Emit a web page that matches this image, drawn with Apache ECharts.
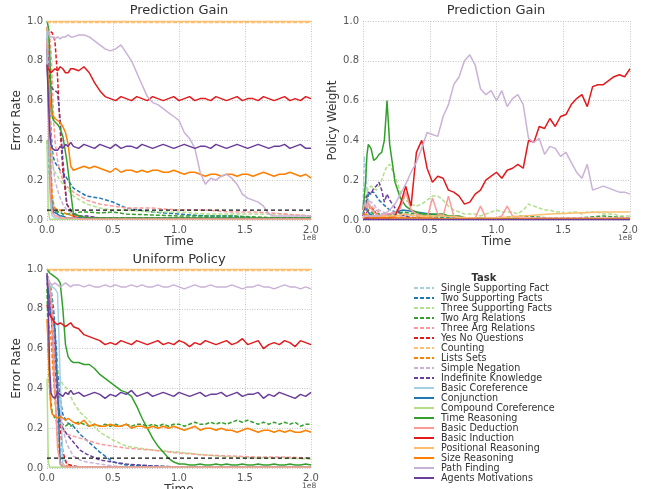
<!DOCTYPE html>
<html><head><meta charset="utf-8">
<script src="https://cdn.jsdelivr.net/npm/echarts@6/dist/echarts.min.js"></script>
<style>html,body{margin:0;padding:0;background:#fff}#c{width:647px;height:489px}</style>
</head><body><div id="c"></div>
<script>
// time grids (units of 1e8)
const T_S = [0,0.01,0.02,0.03,0.04,0.05,0.06,0.08,0.10,0.12,0.15,0.20,0.25,0.30,0.40,0.50,0.60,0.80,1.00,1.20,1.40,1.60,1.80,2.00];
const T_N = [0,0.01,0.02,0.03,0.04,0.06,0.08,0.10,0.12,0.14,0.16,0.18,0.20,0.24,0.28,0.32,0.36,0.40,0.44,0.48,0.52,0.56,0.60,0.64,0.68,0.72,0.76,0.80,0.84,0.88,0.92,0.96,1.00,1.04,1.08,1.12,1.16,1.20,1.24,1.28,1.32,1.36,1.40,1.44,1.48,1.52,1.56,1.60,1.64,1.68,1.72,1.76,1.80,1.84,1.88,1.92,1.96,2.00];

const TASKS = ['Single Supporting Fact','Two Supporting Facts','Three Supporting Facts','Two Arg Relations','Three Arg Relations','Yes No Questions','Counting','Lists Sets','Simple Negation','Indefinite Knowledge','Basic Coreference','Conjunction','Compound Coreference','Time Reasoning','Basic Deduction','Basic Induction','Positional Reasoning','Size Reasoning','Path Finding','Agents Motivations'];
const COLORS = ['#a6cee3','#1f78b4','#b2df8a','#33a02c','#fb9a99','#e31a1c','#fdbf6f','#ff7f00','#cab2d6','#6a3d9a','#a6cee3','#1f78b4','#b2df8a','#33a02c','#fb9a99','#e31a1c','#fdbf6f','#ff7f00','#cab2d6','#6a3d9a'];
const THRESHOLD = 0.05;
const X_TICKS = [0.0,0.5,1.0,1.5,2.0];
const Y_TICKS = [0.0,0.2,0.4,0.6,0.8,1.0];

// ---------- Panel 1: Prediction Gain, error rate ----------
const P1_SSF = [0.95,0.70,0.45,0.25,0.12,0.07,0.05,0.04,0.04,0.03,0.03,0.02,0.02,0.01,0.01,0.01,0.01,0.01,0.01,0.01,0.01,0.01,0.01,0.01];
const P1_TSF = [0.92,0.80,0.60,0.45,0.35,0.31,0.29,0.27,0.25,0.24,0.21,0.16,0.14,0.12,0.11,0.09,0.06,0.04,0.03,0.02,0.02,0.01,0.01,0.01];
const P1_THSF = [0.97,0.85,0.60,0.40,0.30,0.26,0.24,0.22,0.20,0.18,0.16,0.12,0.10,0.08,0.06,0.05,0.05,0.04,0.04,0.03,0.03,0.03,0.03,0.02];
const P1_TAR = [0.40,0.30,0.20,0.12,0.07,0.05,0.04,0.04,0.04,0.03,0.03,0.03,0.04,0.04,0.035,0.04,0.03,0.025,0.02,0.02,0.02,0.015,0.01,0.01];
const P1_THAR = [0.97,0.96,0.93,0.85,0.70,0.50,0.40,0.30,0.24,0.20,0.17,0.14,0.12,0.10,0.08,0.07,0.06,0.06,0.05,0.05,0.04,0.04,0.03,0.02];
const P1_YNQ = [0.97,0.96,0.95,0.95,0.94,0.93,0.90,0.72,0.45,0.25,0.08,0.02,0.01,0.01,0.01,0.005,0.005,0.005,0.005,0.005,0.005,0.005,0.005,0.005];
const P1_CNT = [0.993,0.993,0.993,0.993,0.993,0.993,0.993,0.993,0.993,0.993,0.993,0.993,0.993,0.993,0.993,0.993,0.993,0.993,0.993,0.993,0.993,0.993,0.993,0.993];
const P1_LST = [0.97,0.80,0.50,0.25,0.12,0.08,0.06,0.05,0.05,0.04,0.03,0.02,0.01,0.01,0.01,0.005,0.005,0.005,0.005,0.005,0.005,0.005,0.005,0.005];
const P1_NEG = [0.93,0.80,0.55,0.40,0.30,0.25,0.20,0.15,0.11,0.08,0.05,0.03,0.02,0.02,0.01,0.01,0.01,0.01,0.01,0.01,0.01,0.01,0.01,0.01];
const P1_IND = [0.88,0.78,0.72,0.68,0.66,0.65,0.65,0.64,0.50,0.30,0.08,0.03,0.02,0.02,0.01,0.01,0.01,0.01,0.01,0.01,0.01,0.01,0.01,0.01];
const P1_BCO = [0.95,0.50,0.15,0.05,0.02,0.01,0.01,0.01,0.005,0.005,0.005,0.005,0.005,0.005,0.005,0.005,0.005,0.005,0.005,0.005,0.005,0.005,0.005,0.005];
const P1_CNJ = [0.86,0.60,0.30,0.12,0.06,0.04,0.03,0.03,0.02,0.02,0.01,0.01,0.01,0.01,0.005,0.005,0.005,0.005,0.005,0.005,0.005,0.005,0.005,0.005];
const P1_CCO = [0.40,0.05,0.004,0.004,0.004,0.004,0.004,0.004,0.004,0.004,0.004,0.004,0.004,0.004,0.004,0.004,0.004,0.004,0.004,0.004,0.004,0.004,0.004,0.004];
const P1_TIM = [1.00,0.97,0.85,0.65,0.52,0.50,0.49,0.48,0.46,0.42,0.30,0.03,0.02,0.01,0.01,0.01,0.01,0.01,0.01,0.01,0.01,0.01,0.01,0.01];
const P1_DED = [0.90,0.60,0.30,0.10,0.04,0.03,0.02,0.02,0.01,0.01,0.01,0.01,0.005,0.005,0.005,0.005,0.005,0.005,0.005,0.005,0.005,0.005,0.005,0.005];
const P1_INDU = [0.78,0.76,0.75,0.74,0.74,0.76,0.75,0.77,0.76,0.74,0.74,0.76,0.76, 0.75,0.77,0.74,0.69,0.65,0.62,0.61, 0.60,0.62,0.61,0.60,0.62,0.61,0.60,0.62,0.61,0.60, 0.61,0.62,0.60,0.61,0.62,0.60,0.61,0.61,0.60,0.62, 0.61,0.60,0.61,0.62,0.60,0.61,0.61,0.60,0.62,0.61, 0.60,0.61,0.62,0.60,0.61,0.60,0.62,0.61];
const P1_POS = [0.997,0.997,0.997,0.997,0.997,0.997,0.997,0.997,0.997,0.997,0.997,0.997,0.997,0.997,0.997,0.997,0.997,0.997,0.997,0.997,0.997,0.997,0.997,0.997];
const P1_SIZ = [0.78,0.70,0.62,0.56,0.53,0.51,0.50,0.49,0.47,0.44,0.38,0.27,0.25, 0.26,0.27,0.26,0.27,0.26,0.25,0.24, 0.26,0.24,0.25,0.25,0.24,0.25,0.24,0.25,0.25,0.24, 0.24,0.25,0.24,0.23,0.24,0.24,0.23,0.22,0.23,0.23, 0.22,0.23,0.23,0.22,0.23,0.23,0.22,0.23,0.24,0.23, 0.22,0.23,0.23,0.24,0.23,0.22,0.23,0.21];
const P1_PATH = [0.97,0.94,0.92,0.91,0.92,0.91,0.92,0.91,0.92,0.92,0.93,0.92,0.92, 0.93,0.93,0.92,0.90,0.88,0.86,0.85, 0.86,0.88,0.84,0.80,0.74,0.68,0.62,0.59,0.58,0.56, 0.54,0.52,0.50,0.44,0.41,0.36,0.24,0.18,0.21,0.20, 0.22,0.23,0.21,0.18,0.13,0.11,0.10,0.09,0.07,0.03, 0.02,0.02,0.02,0.02,0.02,0.02,0.02,0.02];
const P1_AGT = [0.78,0.62,0.45,0.38,0.36,0.35,0.35,0.37,0.36,0.38,0.37,0.39,0.37, 0.36,0.38,0.37,0.36,0.38,0.37,0.36, 0.38,0.36,0.37,0.37,0.36,0.38,0.37,0.36,0.37,0.38, 0.37,0.36,0.37,0.38,0.37,0.36,0.37,0.37,0.36,0.38, 0.37,0.36,0.37,0.38,0.37,0.36,0.37,0.38,0.37,0.36, 0.37,0.37,0.38,0.36,0.37,0.38,0.36,0.36];

// ---------- Panel 2: Prediction Gain, policy weight ----------
const P2_SSF = [0.05,0.32,0.25,0.15,0.10,0.08,0.06,0.05,0.04,0.03,0.02,0.02,0.01,0.01,0.01,0.005,0.005,0.005,0.005,0.005,0.005,0.005,0.005,0.005];
const P2_TSF = [0.03,0.06,0.08,0.10,0.12,0.14,0.15,0.14,0.12,0.10,0.08,0.05,0.04,0.03,0.02,0.01,0.01,0.005,0.005,0.005,0.005,0.005,0.005,0.005];
const P2_THSF = [0.02,0.05,0.10,0.14,0.16,0.17,0.16,0.15,0.17,0.20,0.24,0.27,0.28, 0.22,0.14,0.10,0.08,0.07,0.08,0.10, 0.12,0.12,0.10,0.07,0.05,0.04,0.03,0.03,0.03,0.02, 0.03,0.04,0.05,0.04,0.04,0.04,0.03,0.05,0.08,0.07, 0.06,0.05,0.05,0.04,0.04,0.03,0.04,0.04,0.03,0.04, 0.04,0.04,0.03,0.03,0.03,0.02,0.02,0.02];
const P2_TAR = [0.02,0.05,0.07,0.06,0.05,0.04,0.04,0.03,0.03,0.03,0.02,0.02,0.03,0.04,0.03,0.02,0.01,0.01,0.01,0.02,0.01,0.01,0.02,0.01];
const P2_THAR = [0.02,0.04,0.06,0.08,0.09,0.08,0.07,0.06,0.05,0.04,0.03,0.03,0.02,0.02,0.01,0.01,0.005,0.005,0.005,0.005,0.005,0.005,0.005,0.005];
const P2_YNQ = [0.01,0.02,0.03,0.04,0.05,0.06,0.06,0.05,0.03,0.02,0.01,0.01,0.005,0.005,0.005,0.005,0.005,0.005,0.005,0.005,0.005,0.005,0.005,0.005];
const P2_CNT = [0.02,0.05,0.06,0.05,0.04,0.03,0.03,0.02,0.02,0.02,0.01,0.01,0.01,0.01,0.01,0.005,0.005,0.005,0.005,0.005,0.005,0.005,0.005,0.005];
const P2_LST = [0.05,0.10,0.12,0.10,0.08,0.06,0.05,0.04,0.03,0.02,0.02,0.01,0.01,0.01,0.01,0.005,0.005,0.005,0.005,0.005,0.005,0.005,0.005,0.01];
const P2_NEG = [0.02,0.04,0.06,0.08,0.10,0.10,0.09,0.08,0.06,0.05,0.04,0.03,0.02,0.02,0.01,0.01,0.005,0.005,0.005,0.005,0.005,0.005,0.005,0.005];
const P2_IND = [0.02,0.04,0.08,0.12,0.14,0.13,0.16,0.17,0.19,0.15,0.09,0.13,0.10, 0.06,0.03,0.02,0.01,0.01,0.01,0.01, 0.005,0.005,0.005,0.005,0.005,0.005,0.005,0.005,0.005,0.005, 0.005,0.005,0.005,0.005,0.005,0.005,0.005,0.005,0.005,0.005, 0.005,0.005,0.005,0.005,0.005,0.005,0.005,0.005,0.005,0.005, 0.005,0.005,0.005,0.005,0.005,0.005,0.005,0.005];
const P2_BCO = [0.06,0.10,0.08,0.05,0.03,0.02,0.02,0.01,0.01,0.01,0.01,0.01,0.005,0.005,0.005,0.005,0.005,0.005,0.005,0.005,0.005,0.005,0.005,0.005];
const P2_CNJ = [0.08,0.09,0.07,0.05,0.04,0.03,0.03,0.02,0.02,0.02,0.02,0.03,0.04,0.05,0.04,0.03,0.02,0.01,0.005,0.005,0.005,0.005,0.005,0.005];
const P2_CCO = [0.02,0.01,0.005,0.005,0.005,0.005,0.005,0.005,0.005,0.005,0.005,0.005,0.005,0.005,0.005,0.005,0.005,0.005,0.005,0.005,0.005,0.005,0.005,0.005];
const P2_TIM = [0.05,0.12,0.20,0.33,0.38,0.36,0.30,0.31,0.33,0.34,0.40,0.60,0.38, 0.19,0.11,0.07,0.05,0.04,0.03,0.03, 0.03,0.03,0.03,0.02,0.02,0.02,0.01,0.01,0.01,0.01, 0.005,0.005,0.005,0.005,0.005,0.005,0.005,0.005,0.005,0.005, 0.005,0.005,0.005,0.005,0.005,0.005,0.005,0.005,0.005,0.005, 0.005,0.005,0.005,0.005,0.005,0.005,0.005,0.005];
const P2_DED = [0.05,0.08,0.07,0.06,0.08,0.06,0.04,0.03,0.02,0.02,0.02,0.03,0.03, 0.04,0.06,0.14,0.05,0.03,0.02,0.01, 0.11,0.03,0.02,0.12,0.02,0.01,0.01,0.01,0.01,0.07, 0.01,0.01,0.01,0.02,0.07,0.02,0.01,0.01,0.01,0.01, 0.01,0.01,0.01,0.01,0.01,0.01,0.01,0.01,0.01,0.01, 0.01,0.01,0.01,0.01,0.01,0.01,0.01,0.01];
const P2_INDU = [0.01,0.01,0.01,0.01,0.01,0.01,0.01,0.01,0.01,0.01,0.01,0.01,0.01, 0.02,0.08,0.17,0.07,0.34,0.40,0.26, 0.19,0.22,0.21,0.15,0.14,0.12,0.08,0.09,0.13,0.15, 0.20,0.22,0.24,0.21,0.25,0.26,0.28,0.26,0.40,0.39, 0.47,0.46,0.51,0.47,0.52,0.53,0.58,0.61,0.63,0.57, 0.67,0.68,0.68,0.70,0.72,0.73,0.72,0.76];
const P2_POS = [0.01,0.02,0.02,0.02,0.02,0.02,0.02,0.02,0.02,0.02,0.02,0.02,0.02,0.03,0.02,0.02,0.02,0.01,0.01,0.02,0.03,0.035,0.04,0.04];
const P2_SIZ = [0.03,0.04,0.03,0.02,0.02,0.02,0.01,0.01,0.01,0.01,0.01,0.01,0.01,0.01,0.01,0.01,0.005,0.005,0.005,0.005,0.005,0.005,0.005,0.005];
const P2_PATH = [0.02,0.02,0.02,0.02,0.02,0.02,0.02,0.02,0.02,0.03,0.03,0.04,0.05, 0.08,0.13,0.18,0.24,0.29,0.36,0.44, 0.43,0.42,0.52,0.58,0.68,0.72,0.80,0.83,0.78,0.66, 0.63,0.65,0.60,0.65,0.57,0.61,0.63,0.58,0.41,0.39, 0.41,0.33,0.37,0.36,0.32,0.34,0.29,0.24,0.21,0.28, 0.15,0.16,0.17,0.16,0.15,0.14,0.14,0.13];
const P2_AGT = [0.003,0.003,0.003,0.003,0.003,0.003,0.003,0.003,0.003,0.003,0.003,0.003,0.003,0.003,0.003,0.003,0.003,0.003,0.003,0.003,0.003,0.003,0.003,0.003];

// ---------- Panel 3: Uniform Policy, error rate ----------
const P3_SSF = [0.97,0.95,0.90,0.80,0.65,0.50,0.35,0.20,0.10,0.05,0.02,0.01,0.005,0.005,0.005,0.005,0.005,0.005,0.005,0.005,0.005,0.005,0.005,0.005];
const P3_TSF = [0.97,0.95,0.93,0.90,0.85,0.80,0.70,0.50,0.35,0.27,0.23,0.21,0.17,0.14,0.08,0.03,0.015,0.01,0.005,0.005,0.005,0.005,0.005,0.005];
const P3_THSF = [0.97,0.96,0.93,0.88,0.80,0.70,0.60,0.50,0.45,0.42,0.40,0.33,0.28,0.25,0.18,0.14,0.11,0.09,0.08,0.065,0.055,0.05,0.05,0.045];
const P3_TAR = [0.90,0.60,0.40,0.33,0.28,0.25,0.23,0.22,0.22,0.21,0.22,0.21,0.22, 0.23,0.22,0.21,0.22,0.21,0.22,0.21, 0.22,0.21,0.22,0.21,0.22,0.22,0.21,0.22,0.21,0.22, 0.21,0.22,0.22,0.21,0.22,0.23,0.22,0.22,0.23,0.22, 0.23,0.22,0.23,0.24,0.23,0.24,0.23,0.22,0.23,0.22, 0.23,0.22,0.23,0.22,0.23,0.21,0.22,0.22];
const P3_THAR = [0.97,0.95,0.90,0.80,0.65,0.50,0.40,0.30,0.24,0.20,0.17,0.16,0.15,0.14,0.12,0.11,0.10,0.09,0.075,0.065,0.06,0.055,0.055,0.05];
const P3_YNQ = [0.97,0.95,0.90,0.85,0.80,0.70,0.60,0.40,0.20,0.08,0.02,0.01,0.005,0.005,0.005,0.005,0.005,0.005,0.005,0.005,0.005,0.005,0.005,0.005];
const P3_CNT = [0.993,0.993,0.993,0.993,0.993,0.993,0.993,0.993,0.993,0.993,0.993,0.993,0.993,0.993,0.993,0.993,0.993,0.993,0.993,0.993,0.993,0.993,0.993,0.993];
const P3_LST = [0.75,0.72,0.70,0.65,0.55,0.45,0.35,0.15,0.05,0.02,0.01,0.005,0.005,0.005,0.005,0.005,0.005,0.005,0.005,0.005,0.005,0.005,0.005,0.005];
const P3_NEG = [0.95,0.93,0.90,0.85,0.80,0.70,0.60,0.45,0.30,0.20,0.12,0.06,0.04,0.03,0.02,0.01,0.005,0.005,0.005,0.005,0.005,0.005,0.005,0.005];
const P3_IND = [0.93,0.90,0.85,0.80,0.70,0.60,0.50,0.35,0.25,0.20,0.17,0.13,0.09,0.07,0.04,0.03,0.02,0.01,0.005,0.005,0.005,0.005,0.005,0.005];
const P3_BCO = [0.95,0.94,0.93,0.92,0.91,0.90,0.90,0.88,0.45,0.02,0.005,0.005,0.005,0.005,0.005,0.005,0.005,0.005,0.005,0.005,0.005,0.005,0.005,0.005];
const P3_CNJ = [0.97,0.90,0.80,0.76,0.75,0.74,0.70,0.40,0.02,0.005,0.005,0.005,0.005,0.005,0.005,0.005,0.005,0.005,0.005,0.005,0.005,0.005,0.005,0.005];
const P3_CCO = [0.45,0.03,0.004,0.004,0.004,0.004,0.004,0.004,0.004,0.004,0.004,0.004,0.004,0.004,0.004,0.004,0.004,0.004,0.004,0.004,0.004,0.004,0.004,0.004];
const P3_TIM = [1.00,0.99,0.98,0.97,0.97,0.96,0.95,0.93,0.80,0.62,0.56,0.54,0.53, 0.53,0.52,0.52,0.50,0.47,0.45,0.43, 0.41,0.39,0.38,0.36,0.31,0.25,0.20,0.15,0.11,0.08, 0.05,0.03,0.02,0.02,0.015,0.015,0.02,0.015,0.015,0.02, 0.015,0.02,0.015,0.015,0.02,0.015,0.015,0.02,0.015,0.015, 0.02,0.015,0.015,0.02,0.015,0.015,0.02,0.015];
const P3_DED = [0.97,0.95,0.90,0.85,0.75,0.60,0.40,0.10,0.02,0.01,0.005,0.005,0.005,0.005,0.005,0.005,0.005,0.005,0.005,0.005,0.005,0.005,0.005,0.005];
const P3_INDU = [0.82,0.79,0.77,0.76,0.75,0.73,0.72,0.73,0.72,0.71,0.72,0.73,0.71, 0.70,0.67,0.66,0.65,0.64,0.62,0.63, 0.62,0.64,0.63,0.62,0.64,0.63,0.62,0.63,0.64,0.62, 0.63,0.62,0.64,0.63,0.61,0.63,0.62,0.64,0.63,0.62, 0.63,0.64,0.62,0.63,0.65,0.62,0.63,0.64,0.60,0.62, 0.63,0.62,0.64,0.63,0.61,0.64,0.63,0.62];
const P3_POS = [0.997,0.997,0.997,0.997,0.997,0.997,0.997,0.997,0.997,0.997,0.997,0.997,0.997,0.997,0.997,0.997,0.997,0.997,0.997,0.997,0.997,0.997,0.997,0.997];
const P3_SIZ = [0.74,0.60,0.40,0.30,0.27,0.26,0.25,0.26,0.25,0.24,0.25,0.24,0.23, 0.22,0.24,0.21,0.22,0.21,0.21,0.22, 0.21,0.21,0.22,0.20,0.21,0.21,0.20,0.21,0.20,0.21, 0.20,0.21,0.20,0.19,0.20,0.21,0.19,0.20,0.20,0.19, 0.20,0.19,0.19,0.18,0.19,0.20,0.19,0.18,0.19,0.19, 0.18,0.19,0.18,0.19,0.18,0.18,0.19,0.18];
const P3_PATH = [0.97,0.95,0.93,0.92,0.92,0.93,0.92,0.91,0.92,0.93,0.92,0.91,0.92, 0.92,0.91,0.92,0.91,0.91,0.92,0.91, 0.92,0.91,0.91,0.92,0.91,0.92,0.91,0.91,0.92,0.91, 0.91,0.92,0.91,0.90,0.91,0.92,0.91,0.91,0.92,0.91, 0.91,0.91,0.92,0.91,0.90,0.91,0.91,0.92,0.91,0.91, 0.90,0.91,0.92,0.91,0.91,0.90,0.91,0.90];
const P3_AGT = [0.98,0.80,0.50,0.38,0.36,0.35,0.38,0.37,0.36,0.38,0.37,0.39,0.37, 0.38,0.36,0.37,0.38,0.37,0.35,0.37, 0.36,0.38,0.37,0.39,0.36,0.37,0.38,0.36,0.37,0.38, 0.37,0.36,0.38,0.37,0.36,0.37,0.38,0.36,0.37,0.37, 0.38,0.36,0.37,0.38,0.36,0.37,0.37,0.38,0.35,0.37, 0.36,0.38,0.37,0.36,0.35,0.37,0.36,0.38];

// per-panel tables in task order: [time grid, values]
const PANEL1 = [[T_S,P1_SSF],[T_S,P1_TSF],[T_S,P1_THSF],[T_S,P1_TAR],[T_S,P1_THAR],[T_S,P1_YNQ],[T_S,P1_CNT],[T_S,P1_LST],[T_S,P1_NEG],[T_S,P1_IND],[T_S,P1_BCO],[T_S,P1_CNJ],[T_S,P1_CCO],[T_S,P1_TIM],[T_S,P1_DED],[T_N,P1_INDU],[T_S,P1_POS],[T_N,P1_SIZ],[T_N,P1_PATH],[T_N,P1_AGT]];
const PANEL2 = [[T_S,P2_SSF],[T_S,P2_TSF],[T_N,P2_THSF],[T_S,P2_TAR],[T_S,P2_THAR],[T_S,P2_YNQ],[T_S,P2_CNT],[T_S,P2_LST],[T_S,P2_NEG],[T_N,P2_IND],[T_S,P2_BCO],[T_S,P2_CNJ],[T_S,P2_CCO],[T_N,P2_TIM],[T_N,P2_DED],[T_N,P2_INDU],[T_S,P2_POS],[T_S,P2_SIZ],[T_N,P2_PATH],[T_S,P2_AGT]];
const PANEL3 = [[T_S,P3_SSF],[T_S,P3_TSF],[T_S,P3_THSF],[T_N,P3_TAR],[T_S,P3_THAR],[T_S,P3_YNQ],[T_S,P3_CNT],[T_S,P3_LST],[T_S,P3_NEG],[T_S,P3_IND],[T_S,P3_BCO],[T_S,P3_CNJ],[T_S,P3_CCO],[T_N,P3_TIM],[T_S,P3_DED],[T_N,P3_INDU],[T_S,P3_POS],[T_N,P3_SIZ],[T_N,P3_PATH],[T_N,P3_AGT]];

const FONT = 'DejaVu Sans';
const series = [];
[PANEL1, PANEL2, PANEL3].forEach((panel, p) => {
  panel.forEach(([t, v], i) => {
    const n = Math.min(t.length, v.length);
    const data = [];
    for (let k = 0; k < n; k++) data.push([t[k], v[k]]);
    series.push({
      type: 'line', name: TASKS[i], xAxisIndex: p, yAxisIndex: p,
      symbol: 'none', showSymbol: false, animation: false, clip: false,
      data: data,
      lineStyle: { color: COLORS[i], width: 1.5, type: i < 10 ? [4, 2] : 'solid' },
      itemStyle: { color: COLORS[i] },
      emphasis: { disabled: true }
    });
  });
  if (p !== 1) {
    series.push({
      type: 'line', name: 'threshold', xAxisIndex: p, yAxisIndex: p, symbol: 'none',
      data: [[X_TICKS[0], THRESHOLD], [X_TICKS[X_TICKS.length - 1], THRESHOLD]],
      lineStyle: { color: '#111', width: 1.2, type: [4, 3] }, animation: false, z: 3
    });
  }
});

function xAxis(idx) {
  return {
    gridIndex: idx, type: 'value', min: X_TICKS[0], max: X_TICKS[X_TICKS.length - 1], interval: 0.5,
    axisLine: { show: false }, axisTick: { show: false },
    axisLabel: { formatter: v => v.toFixed(1), color: '#555', fontSize: 10, fontFamily: FONT, margin: 5 },
    splitLine: { show: true, lineStyle: { type: [1, 1.5], color: '#b5b5b5', width: 0.8 } },
    name: 'Time', nameLocation: 'middle', nameGap: 15,
    nameTextStyle: { fontSize: 12, color: '#333', fontFamily: FONT }
  };
}
function yAxis(idx, name) {
  return {
    gridIndex: idx, type: 'value', min: Y_TICKS[0], max: Y_TICKS[Y_TICKS.length - 1], interval: 0.2,
    axisLine: { show: false }, axisTick: { show: false },
    axisLabel: { formatter: v => v.toFixed(1), color: '#555', fontSize: 10, fontFamily: FONT, margin: 4 },
    splitLine: { show: true, lineStyle: { type: [1, 1.5], color: '#b5b5b5', width: 0.8 } },
    name: name, nameLocation: 'middle', nameGap: 23,
    nameTextStyle: { fontSize: 12, color: '#333', fontFamily: FONT }
  };
}

const titleStyle = { fontSize: 13, fontWeight: 'normal', color: '#333', fontFamily: FONT };
const smallStyle = { fontSize: 7.5, fontWeight: 'normal', color: '#555', fontFamily: FONT };

const chart = echarts.init(document.getElementById('c'), null, { renderer: 'canvas' });
chart.setOption({
  backgroundColor: '#fff',
  animation: false,
  title: [
    { text: 'Prediction Gain', left: 179, top: 4, textAlign: 'center', textStyle: titleStyle, padding: 0 },
    { text: 'Prediction Gain', left: 496, top: 4, textAlign: 'center', textStyle: titleStyle, padding: 0 },
    { text: 'Uniform Policy', left: 179, top: 253, textAlign: 'center', textStyle: titleStyle, padding: 0 },
    { text: 'Task', left: 484, top: 273, textAlign: 'center', padding: 0, textStyle: { fontSize: 10, fontWeight: 'bold', color: '#333', fontFamily: FONT } },
    { text: '1e8', left: 302, top: 234, padding: 0, textStyle: smallStyle },
    { text: '1e8', left: 618, top: 234, padding: 0, textStyle: smallStyle },
    { text: '1e8', left: 302, top: 482, padding: 0, textStyle: smallStyle }
  ],
  grid: [
    { left: 47, top: 21, width: 264, height: 199, outerBoundsMode: 'none', containLabel: false },
    { left: 363, top: 21, width: 267, height: 199, outerBoundsMode: 'none', containLabel: false },
    { left: 47, top: 269, width: 264, height: 199, outerBoundsMode: 'none', containLabel: false }
  ],
  xAxis: [xAxis(0), xAxis(1), xAxis(2)],
  yAxis: [yAxis(0, 'Error Rate'), yAxis(1, 'Policy Weight'), yAxis(2, 'Error Rate')],
  legend: {
    data: TASKS, orient: 'vertical', left: 413, top: 283, padding: 0,
    itemWidth: 20, itemHeight: 8, itemGap: 0, selectedMode: false,
    itemStyle: { opacity: 0, borderWidth: 0 },
    textStyle: { fontSize: 9.6, lineHeight: 10, color: '#333', fontFamily: FONT, padding: [0, 0, 0, 2] }
  },
  series: series
});
</script>
</body></html>
